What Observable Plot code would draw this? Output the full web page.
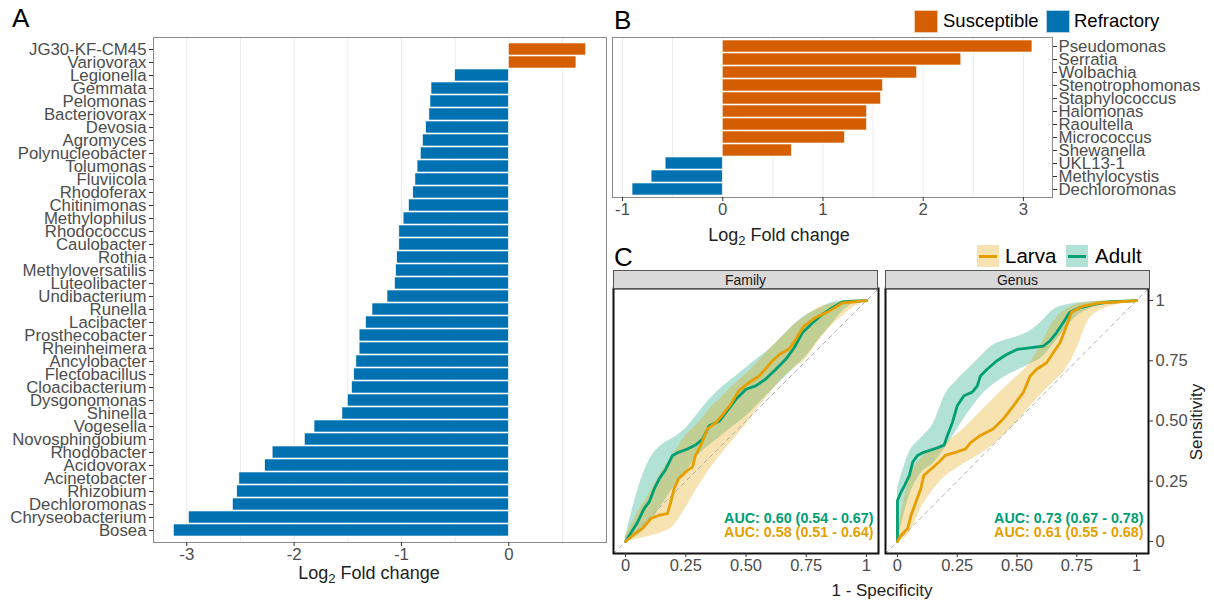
<!DOCTYPE html>
<html><head><meta charset="utf-8">
<script src="https://cdn.jsdelivr.net/npm/d3@7"></script>
<script src="https://cdn.jsdelivr.net/npm/@observablehq/plot@0.6"></script>
<style>
body{margin:0;background:#fff;}
#root{position:relative;width:1214px;height:600px;overflow:hidden;font-family:"Liberation Sans",Arial,sans-serif;color:#000;}
.t{position:absolute;white-space:nowrap;line-height:1;}
.key{position:absolute;box-sizing:border-box;}
</style></head><body><div id="root"></div>
<script>
// ---------- Panel A data ----------
const genusA = ["JG30-KF-CM45","Variovorax","Legionella","Gemmata","Pelomonas","Bacteriovorax","Devosia","Agromyces","Polynucleobacter","Tolumonas","Fluviicola","Rhodoferax","Chitinimonas","Methylophilus","Rhodococcus","Caulobacter","Rothia","Methyloversatilis","Luteolibacter","Undibacterium","Runella","Lacibacter","Prosthecobacter","Rheinheimera","Ancylobacter","Flectobacillus","Cloacibacterium","Dysgonomonas","Shinella","Vogesella","Novosphingobium","Rhodobacter","Acidovorax","Acinetobacter","Rhizobium","Dechloromonas","Chryseobacterium","Bosea"];
const lfcA = [0.72,0.63,-0.50,-0.72,-0.73,-0.74,-0.77,-0.80,-0.82,-0.85,-0.87,-0.89,-0.93,-0.98,-1.02,-1.02,-1.04,-1.05,-1.06,-1.13,-1.27,-1.33,-1.39,-1.39,-1.42,-1.44,-1.46,-1.50,-1.55,-1.81,-1.90,-2.20,-2.27,-2.51,-2.53,-2.57,-2.98,-3.12];
const xTicksA = [-3,-2,-1,0];
const gridA = [-3,-2.5,-2,-1.5,-1,-0.5,0,0.5];

// ---------- Panel B data ----------
const genusB = ["Pseudomonas","Serratia","Wolbachia","Stenotrophomonas","Staphylococcus","Halomonas","Raoultella","Micrococcus","Shewanella","UKL13-1","Methylocystis","Dechloromonas"];
const lfcB = [3.09,2.38,1.94,1.60,1.58,1.44,1.44,1.22,0.69,-0.57,-0.71,-0.90];
const xTicksB = [-1,0,1,2,3];
const gridB = [-1,-0.5,0,0.5,1,1.5,2,2.5,3];

const groups = ["Susceptible","Refractory"];
const groupColors = ["#D55E00","#0072B2"];

// ---------- Panel C data (ROC curves) ----------
const stages = ["Larva","Adult"];
const stageColors = ["#E69F00","#009E73"];
const rocTicks = [0,0.25,0.5,0.75,1];
const rocTickLabels = ["0","0.25","0.50","0.75","1"];

const famAdultX = [0,0.05,0.077,0.098,0.12,0.14,0.167,0.195,0.22,0.257,0.29,0.32,0.347,0.39,0.416,0.458,0.5,0.54,0.582,0.624,0.665,0.70,0.734,0.776,0.817,0.859,0.90,0.94,1];
const famAdultY = [0,0.08,0.136,0.164,0.22,0.26,0.30,0.357,0.37,0.384,0.40,0.425,0.48,0.50,0.535,0.59,0.632,0.646,0.674,0.715,0.756,0.804,0.866,0.907,0.942,0.97,0.994,0.997,1];
const famLarvaX = [0,0.03,0.07,0.105,0.14,0.174,0.188,0.202,0.22,0.257,0.278,0.29,0.313,0.34,0.375,0.40,0.437,0.47,0.513,0.555,0.61,0.64,0.68,0.707,0.74,0.79,0.845,0.90,0.94,1];
const famLarvaY = [0,0.026,0.054,0.095,0.109,0.116,0.164,0.22,0.26,0.295,0.309,0.357,0.40,0.467,0.494,0.522,0.57,0.625,0.66,0.687,0.75,0.777,0.80,0.839,0.894,0.93,0.956,0.99,0.994,1];
const genAdultX = [0,0,0.015,0.03,0.05,0.064,0.084,0.11,0.154,0.195,0.209,0.23,0.25,0.278,0.313,0.334,0.347,0.375,0.416,0.458,0.5,0.553,0.61,0.637,0.665,0.693,0.72,0.762,0.817,0.887,1];
const genAdultY = [0,0.17,0.205,0.233,0.274,0.33,0.357,0.37,0.384,0.40,0.44,0.494,0.563,0.605,0.62,0.646,0.687,0.715,0.75,0.777,0.797,0.804,0.811,0.832,0.866,0.908,0.95,0.97,0.983,0.994,1];
const genLarvaX = [0,0.015,0.043,0.057,0.077,0.098,0.11,0.14,0.174,0.20,0.243,0.285,0.306,0.347,0.40,0.444,0.485,0.527,0.555,0.582,0.624,0.652,0.68,0.707,0.727,0.776,0.845,0.914,1];
const genLarvaY = [0,0.026,0.054,0.109,0.164,0.22,0.274,0.30,0.33,0.357,0.37,0.384,0.41,0.44,0.467,0.51,0.563,0.62,0.687,0.715,0.742,0.784,0.825,0.894,0.95,0.977,0.99,0.994,1];

// confidence bands read at these specificity positions
const bandX = [0,0.05,0.1,0.15,0.2,0.25,0.3,0.35,0.4,0.45,0.5,0.55,0.6,0.65,0.7,0.75,0.8,0.85,0.9,0.95,1];
const famAdultLo = [0,0.025,0.075,0.15,0.225,0.29,0.355,0.40,0.44,0.48,0.52,0.57,0.62,0.67,0.72,0.77,0.835,0.895,0.955,0.99,1];
const famAdultHi = [0.02,0.21,0.34,0.40,0.43,0.47,0.53,0.59,0.64,0.68,0.72,0.76,0.80,0.85,0.90,0.94,0.965,0.99,0.997,1,1];
const famLarvaLo = [0,0.01,0.022,0.037,0.065,0.14,0.225,0.30,0.365,0.425,0.485,0.555,0.615,0.675,0.72,0.76,0.83,0.89,0.935,0.975,1];
const famLarvaHi = [0.02,0.12,0.20,0.29,0.365,0.44,0.49,0.55,0.60,0.65,0.695,0.745,0.80,0.85,0.90,0.935,0.97,0.985,0.995,1,1];
const genAdultLo = [0,0.19,0.285,0.325,0.39,0.465,0.54,0.605,0.65,0.685,0.71,0.735,0.76,0.815,0.88,0.935,0.965,0.983,0.99,0.995,1];
const genAdultHi = [0.22,0.37,0.43,0.49,0.61,0.67,0.72,0.77,0.815,0.835,0.85,0.87,0.91,0.96,0.98,0.99,0.994,0.997,1,1,1];
const genLarvaLo = [0,0.035,0.14,0.215,0.27,0.305,0.335,0.365,0.40,0.445,0.495,0.555,0.61,0.66,0.71,0.80,0.92,0.96,0.978,0.99,1];
const genLarvaHi = [0.03,0.26,0.345,0.38,0.41,0.445,0.49,0.54,0.59,0.64,0.685,0.735,0.815,0.91,0.96,0.985,0.993,0.997,1,1,1];

const aucFamily = ["AUC: 0.60 (0.54 - 0.67)","AUC: 0.58 (0.51 - 0.64)"];
const aucGenus  = ["AUC: 0.73 (0.67 - 0.78)","AUC: 0.61 (0.55 - 0.68)"];

// ---------- helpers ----------
const FONT = '"Liberation Sans", Arial, sans-serif';
const root = document.getElementById("root");
function place(node, left, top){ node.style.position="absolute"; node.style.left=left+"px"; node.style.top=top+"px"; root.appendChild(node); }
function text(html, x, y, css, anchor, extra){
  const d = document.createElement("div"); d.className="t"; d.innerHTML = html;
  Object.assign(d.style, css||{});
  d.style.left = x+"px"; d.style.top = y+"px";
  const a = anchor||"middle";
  d.style.transform = (a==="start" ? "translate(0,-50%)" : a==="end" ? "translate(-100%,-50%)" : "translate(-50%,-50%)") + (extra||"");
  root.appendChild(d); return d;
}
function key(x,y,w,h,css){ const d=document.createElement("div"); d.className="key"; Object.assign(d.style,{left:x+"px",top:y+"px",width:w+"px",height:h+"px"},css); root.appendChild(d); return d; }

const AX = {fill:"#4D4D4D", stroke:"#333", fontSize:16.8};
const SUB = "<sub style='font-size:13px;vertical-align:-4px'>2</sub>";

// ---------- Panel A ----------
const dataA = genusA.map((g,i)=>({genus:g, lfc:lfcA[i], group: lfcA[i] > 0 ? groups[0] : groups[1]}));
const chartA = Plot.plot({
  width: 612, height: 600, marginLeft: 153, marginRight: 6, marginTop: 37, marginBottom: 58,
  style: {fontFamily: FONT, background: "none", overflow: "visible"},
  x: {domain: [-3.31, 0.91]},
  y: {domain: genusA, paddingInner: 0.1, paddingOuter: 0.15},
  color: {domain: groups, range: groupColors},
  marks: [
    Plot.ruleX(gridA, {stroke: "#EBEBEB", strokeWidth: 1}),
    Plot.barX(dataA, {x: "lfc", y: "genus", fill: "group", stroke: "white", strokeWidth: 0.6}),
    Plot.frame({stroke: "#8A8A8A"}),
    Plot.axisX({...AX, ticks: xTicksA, tickFormat: d => String(d), tickSize: 4, tickPadding: 2, label: null}),
    Plot.axisY({...AX, tickSize: 4, tickPadding: 3, label: null})
  ]
});
place(chartA, 0, 0);
text("A", 12, 18, {fontSize:"26px"}, "start");
text("Log" + SUB + " Fold change", 369, 574, {fontSize:"18px", color:"#222"});

// ---------- Panel B ----------
const dataB = genusB.map((g,i)=>({genus:g, lfc:lfcB[i], group: lfcB[i] > 0 ? groups[0] : groups[1]}));
const chartB = Plot.plot({
  width: 614, height: 260, marginLeft: 12, marginRight: 162, marginTop: 37, marginBottom: 63,
  style: {fontFamily: FONT, background: "none", overflow: "visible"},
  x: {domain: [-1.1, 3.29]},
  y: {domain: genusB, paddingInner: 0.1, paddingOuter: 0.15},
  color: {domain: groups, range: groupColors},
  marks: [
    Plot.ruleX(gridB, {stroke: "#EBEBEB", strokeWidth: 1}),
    Plot.barX(dataB, {x: "lfc", y: "genus", fill: "group", stroke: "white", strokeWidth: 0.6}),
    Plot.frame({stroke: "#8A8A8A"}),
    Plot.axisX({...AX, ticks: xTicksB, tickFormat: d => String(d), tickSize: 4, tickPadding: 2, label: null}),
    Plot.axisY({...AX, anchor: "right", tickSize: 4, tickPadding: 2, label: null})
  ]
});
place(chartB, 600, 0);
text("B", 614, 20, {fontSize:"26px"}, "start");
text("Log" + SUB + " Fold change", 779, 236, {fontSize:"18px", color:"#222"});
// legend B
key(914, 10, 24, 23, {background: groupColors[0], border: "1px solid #f3c9b0"});
text(groups[0], 943, 21, {fontSize:"18.5px"}, "start");
key(1046, 10, 24, 23, {background: groupColors[1], border: "1px solid #b5d3e8"});
text(groups[1], 1074, 21, {fontSize:"18.5px"}, "start");

// ---------- Panel C ----------
function rocChart(series, aucLabels, showY){
  const [adX, adY, lvX, lvY, adLo, adHi, lvLo, lvHi] = series;
  const band = (lo, hi) => bandX.map((x,i)=>({x, lo: lo[i], hi: hi[i]}));
  const line = (xs, ys) => xs.map((x,i)=>({x, y: ys[i]}));
  return Plot.plot({
    width: showY ? 331 : 269, height: 292,
    marginLeft: 2, marginRight: showY ? 66 : 2, marginTop: 2, marginBottom: 25,
    style: {fontFamily: FONT, background: "none", overflow: "visible"},
    x: {domain: [-0.05, 1.05]},
    y: {domain: [-0.05, 1.05], axis: showY ? undefined : null},
    marks: [
      Plot.areaY(band(adLo, adHi), {x: "x", y1: "lo", y2: "hi", fill: stageColors[1], fillOpacity: 0.3, curve: "monotone-x"}),
      Plot.areaY(band(lvLo, lvHi), {x: "x", y1: "lo", y2: "hi", fill: stageColors[0], fillOpacity: 0.3, curve: "monotone-x"}),
      Plot.line([{x:-0.05,y:-0.05},{x:1.05,y:1.05}], {x:"x", y:"y", stroke:"#B0B0B0", strokeWidth:1, strokeDasharray:"4,4"}),
      Plot.line(line(adX, adY), {x:"x", y:"y", stroke: stageColors[1], strokeWidth: 2.8}),
      Plot.line(line(lvX, lvY), {x:"x", y:"y", stroke: stageColors[0], strokeWidth: 2.8}),
      Plot.text([aucLabels[0]], {frameAnchor:"bottom-right", dx:-5, dy:-31, text: d=>d, fill: stageColors[1], fontWeight:"bold", fontSize: 14.3, textAnchor:"end"}),
      Plot.text([aucLabels[1]], {frameAnchor:"bottom-right", dx:-5, dy:-17, text: d=>d, fill: stageColors[0], fontWeight:"bold", fontSize: 14.3, textAnchor:"end"}),
      Plot.frame({stroke: "#111", strokeWidth: 2}),
      Plot.axisX({...AX, fontSize: 16.5, ticks: rocTicks, tickFormat: (d,i)=>rocTickLabels[i], tickSize: 4, tickPadding: 2, label: null}),
      ...(showY ? [Plot.axisY({...AX, fontSize: 16.5, anchor:"right", ticks: rocTicks, tickFormat: (d,i)=>rocTickLabels[i], tickSize: 4, tickPadding: 3, label: null})] : [])
    ]
  });
}
const cFam = rocChart([famAdultX, famAdultY, famLarvaX, famLarvaY, famAdultLo, famAdultHi, famLarvaLo, famLarvaHi], aucFamily, false);
place(cFam, 611, 286);
const cGen = rocChart([genAdultX, genAdultY, genLarvaX, genLarvaY, genAdultLo, genAdultHi, genLarvaLo, genLarvaHi], aucGenus, true);
place(cGen, 883, 286);

// strips
const facets = ["Family","Genus"];
[[613, facets[0]],[885, facets[1]]].forEach(([x,lab])=>{
  key(x, 270, 265, 19, {background:"#D9D9D9", border:"1px solid #555"});
  text(lab, x+132.5, 280, {fontSize:"14px", color:"#1A1A1A"});
});
text("C", 614, 257, {fontSize:"26px"}, "start");
text("1 - Specificity", 882, 590, {fontSize:"17px", color:"#222"});
text("Sensitivity", 1196, 422, {fontSize:"17px", color:"#222"}, "middle", " rotate(-90deg)");
// legend C
[[977, 0],[1066, 1]].forEach(([x,i])=>{
  const k = key(x, 245, 22, 22, {background: stageColors[i]+"4D"});
  const ln = document.createElement("div");
  Object.assign(ln.style,{position:"absolute",left:"2px",right:"2px",top:"9.5px",height:"3px",background:stageColors[i]});
  k.appendChild(ln);
});
text(stages[0], 1005, 256, {fontSize:"20.5px"}, "start");
text(stages[1], 1095, 256, {fontSize:"20.5px"}, "start");
</script></body></html>
